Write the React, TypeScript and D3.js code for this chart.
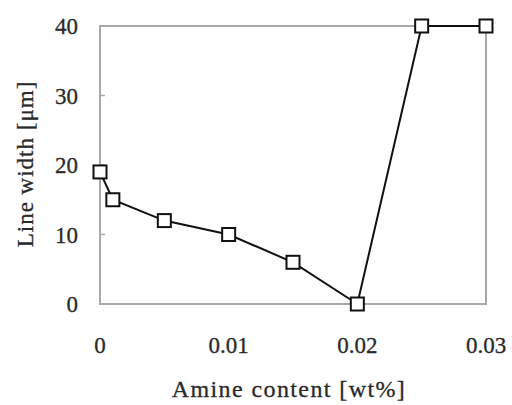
import React from "react";
import * as d3 from "d3";

const amineContent = [0, 0.001, 0.005, 0.01, 0.015, 0.02, 0.025, 0.03];
const lineWidth = [19, 15, 12, 10, 6, 0, 40, 40];
const xTicks = [0, 0.01, 0.02, 0.03];
const xTickLabels = ["0", "0.01", "0.02", "0.03"];
const yTicks = [0, 10, 20, 30, 40];

const width = 512;
const height = 405;
const margin = { top: 26, right: 26, bottom: 101, left: 100 };

export default function App() {
  const x = d3
    .scaleLinear()
    .domain([0, 0.03])
    .range([margin.left, width - margin.right]);
  const y = d3
    .scaleLinear()
    .domain([0, 40])
    .range([height - margin.bottom, margin.top]);

  const line = d3
    .line<number>()
    .x((d, i) => x(amineContent[i]))
    .y((d) => y(d));

  const font = "'Liberation Serif', 'Times New Roman', serif";
  const gray = "#a8a8a8";
  const textColor = "#2a2a2a";
  const box = 13;

  // slight stroke to thicken the scanned-looking serif text
  const textStyle = { stroke: textColor, strokeWidth: 0.3 };

  return (
    <svg
      width={width}
      height={height}
      style={{ position: "absolute", left: 0, top: 0, background: "#fff" }}
    >
      {/* frame */}
      <rect
        x={margin.left}
        y={margin.top}
        width={width - margin.left - margin.right}
        height={height - margin.top - margin.bottom}
        fill="none"
        stroke={gray}
        strokeWidth={2}
      />
      {/* y ticks */}
      {yTicks.map((t) => (
        <g key={"y" + t}>
          <line
            x1={margin.left}
            x2={margin.left + 5}
            y1={y(t)}
            y2={y(t)}
            stroke={gray}
            strokeWidth={1.5}
          />
          <text
            x={78}
            y={y(t) + 8}
            textAnchor="end"
            fontFamily={font}
            fontSize={23}
            fill={textColor}
            style={textStyle}
          >
            {t}
          </text>
        </g>
      ))}
      {/* x tick labels */}
      {xTicks.map((t, i) => (
        <text
          key={"x" + t}
          x={x(t)}
          y={353}
          textAnchor="middle"
          fontFamily={font}
          fontSize={23}
          fill={textColor}
          style={textStyle}
        >
          {xTickLabels[i]}
        </text>
      ))}
      {/* axis titles */}
      <text
        x={289}
        y={397}
        textAnchor="middle"
        fontFamily={font}
        fontSize={24}
        letterSpacing={1.4}
        fill={textColor}
        style={textStyle}
      >
        Amine content [wt%]
      </text>
      <text
        transform="translate(33, 164) rotate(-90)"
        textAnchor="middle"
        fontFamily={font}
        fontSize={23}
        letterSpacing={1}
        fill={textColor}
        style={textStyle}
      >
        Line width  [μm]
      </text>
      {/* data line */}
      <path d={line(lineWidth) || ""} fill="none" stroke="#111" strokeWidth={2} />
      {lineWidth.map((v, i) => (
        <rect
          key={"p" + i}
          x={x(amineContent[i]) - box / 2}
          y={y(v) - box / 2}
          width={box}
          height={box}
          fill="#fff"
          stroke="#111"
          strokeWidth={2}
        />
      ))}
    </svg>
  );
}
